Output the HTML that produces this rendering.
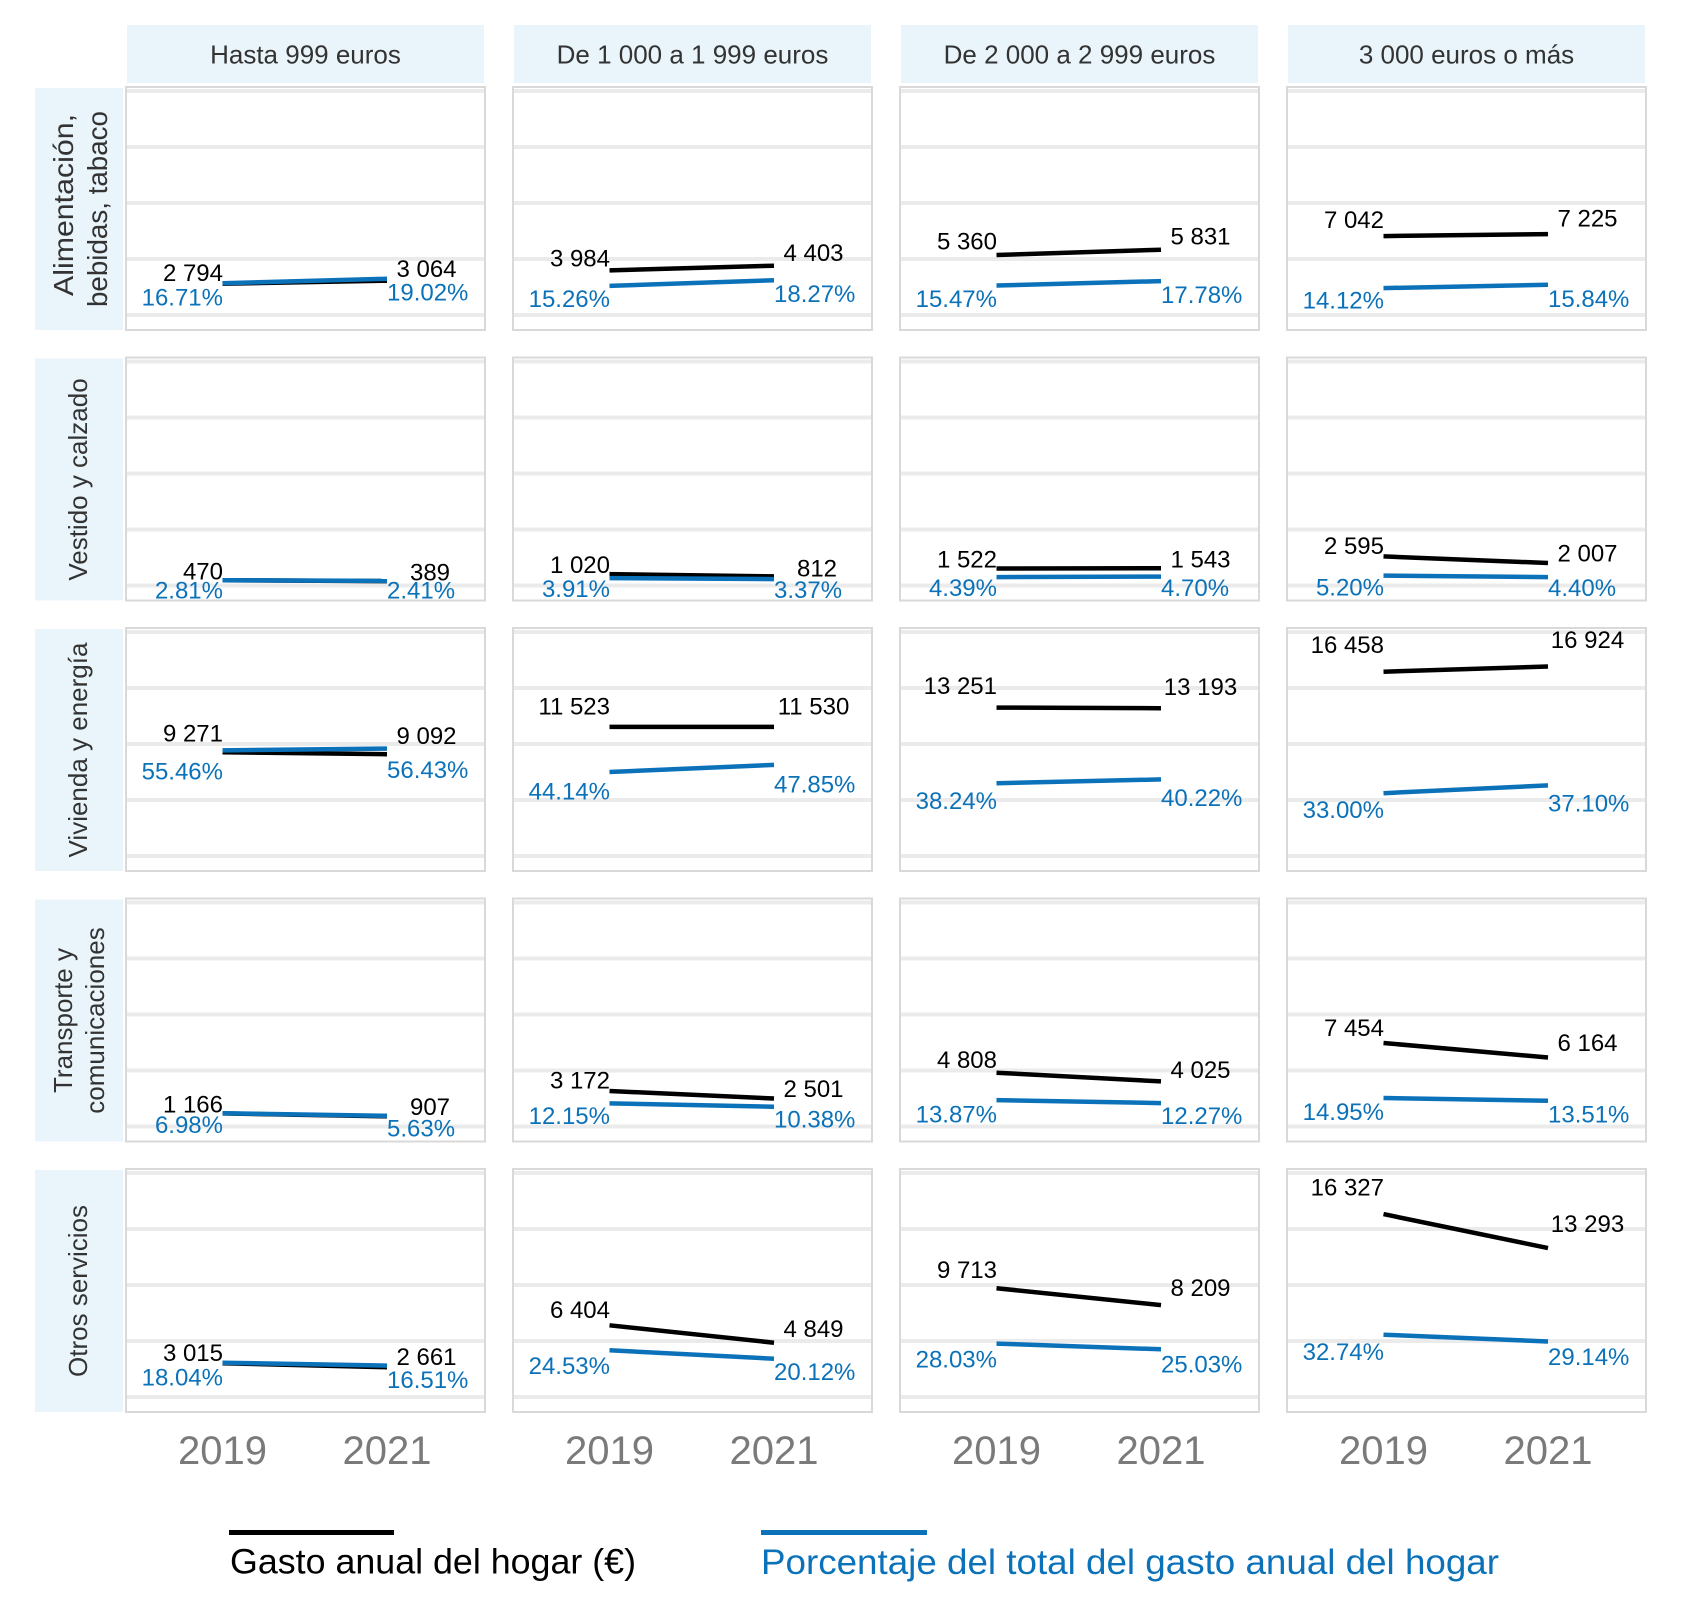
<!DOCTYPE html>
<html>
<head>
<meta charset="utf-8">
<style>
  html,body{margin:0;padding:0;background:#fff;}
  svg{display:block;}
  text{font-family:"Liberation Sans",Arial,sans-serif;}
  .hdr{font-size:26px;fill:#333;text-anchor:middle;}
  .row{font-size:26px;fill:#333;text-anchor:middle;}
  .bl{font-size:24px;fill:#000;}
  .pl{font-size:24px;fill:#0b72b9;}
  .yr{font-size:40px;fill:#7a7a7a;text-anchor:middle;}
  .grid{stroke:#ebebeb;stroke-width:4;}
  .bord{fill:none;stroke:#d9d9d9;stroke-width:2;}
  .lb{stroke:#000;stroke-width:4.5;fill:none;}
  .lp{stroke:#0b72b9;stroke-width:4.5;fill:none;}
</style>
</head>
<body>
<svg width="1689" height="1608" viewBox="0 0 1689 1608" xmlns="http://www.w3.org/2000/svg">
<rect x="0" y="0" width="1689" height="1608" fill="#fff"/>

<!-- Column headers -->
<rect x="127" y="25" width="357" height="58" fill="#eaf5fb"/>
<rect x="514" y="25" width="357" height="58" fill="#eaf5fb"/>
<rect x="901" y="25" width="357" height="58" fill="#eaf5fb"/>
<rect x="1288" y="25" width="357" height="58" fill="#eaf5fb"/>
<text class="hdr" x="305.5" y="63.3">Hasta 999 euros</text>
<text class="hdr" x="692.5" y="63.3">De 1 000 a 1 999 euros</text>
<text class="hdr" x="1079.5" y="63.3">De 2 000 a 2 999 euros</text>
<text class="hdr" x="1466.5" y="63.3">3 000 euros o más</text>

<!-- Row strips -->
<rect x="35" y="88" width="88" height="242" fill="#eaf5fb"/>
<rect x="35" y="358.5" width="88" height="242" fill="#eaf5fb"/>
<rect x="35" y="629" width="88" height="242" fill="#eaf5fb"/>
<rect x="35" y="899.5" width="88" height="242" fill="#eaf5fb"/>
<rect x="35" y="1170" width="88" height="242" fill="#eaf5fb"/>

<text class="row" style="font-size:28px" transform="translate(73,205) rotate(-90)" textLength="182" lengthAdjust="spacingAndGlyphs">Alimentación,</text>
<text class="row" style="font-size:28px" transform="translate(107,209) rotate(-90)" textLength="196" lengthAdjust="spacingAndGlyphs">bebidas, tabaco</text>
<text class="row" transform="translate(87,479.5) rotate(-90)">Vestido y calzado</text>
<text class="row" transform="translate(87,750) rotate(-90)">Vivienda y energía</text>
<text class="row" transform="translate(72,1020.5) rotate(-90)">Transporte y</text>
<text class="row" transform="translate(104,1020.5) rotate(-90)">comunicaciones</text>
<text class="row" transform="translate(87,1291) rotate(-90)">Otros servicios</text>

<!-- Panels: gridlines + borders -->
<g>
<g class="grid">
<line x1="125" x2="486" y1="315" y2="315"/><line x1="125" x2="486" y1="259" y2="259"/><line x1="125" x2="486" y1="203" y2="203"/><line x1="125" x2="486" y1="147" y2="147"/><line x1="125" x2="486" y1="91" y2="91"/>
<line x1="512" x2="873" y1="315" y2="315"/><line x1="512" x2="873" y1="259" y2="259"/><line x1="512" x2="873" y1="203" y2="203"/><line x1="512" x2="873" y1="147" y2="147"/><line x1="512" x2="873" y1="91" y2="91"/>
<line x1="899" x2="1260" y1="315" y2="315"/><line x1="899" x2="1260" y1="259" y2="259"/><line x1="899" x2="1260" y1="203" y2="203"/><line x1="899" x2="1260" y1="147" y2="147"/><line x1="899" x2="1260" y1="91" y2="91"/>
<line x1="1286" x2="1647" y1="315" y2="315"/><line x1="1286" x2="1647" y1="259" y2="259"/><line x1="1286" x2="1647" y1="203" y2="203"/><line x1="1286" x2="1647" y1="147" y2="147"/><line x1="1286" x2="1647" y1="91" y2="91"/>
</g>
<g class="grid">
<line x1="125" x2="486" y1="585.5" y2="585.5"/><line x1="125" x2="486" y1="529.5" y2="529.5"/><line x1="125" x2="486" y1="473.5" y2="473.5"/><line x1="125" x2="486" y1="417.5" y2="417.5"/><line x1="125" x2="486" y1="361.5" y2="361.5"/>
<line x1="512" x2="873" y1="585.5" y2="585.5"/><line x1="512" x2="873" y1="529.5" y2="529.5"/><line x1="512" x2="873" y1="473.5" y2="473.5"/><line x1="512" x2="873" y1="417.5" y2="417.5"/><line x1="512" x2="873" y1="361.5" y2="361.5"/>
<line x1="899" x2="1260" y1="585.5" y2="585.5"/><line x1="899" x2="1260" y1="529.5" y2="529.5"/><line x1="899" x2="1260" y1="473.5" y2="473.5"/><line x1="899" x2="1260" y1="417.5" y2="417.5"/><line x1="899" x2="1260" y1="361.5" y2="361.5"/>
<line x1="1286" x2="1647" y1="585.5" y2="585.5"/><line x1="1286" x2="1647" y1="529.5" y2="529.5"/><line x1="1286" x2="1647" y1="473.5" y2="473.5"/><line x1="1286" x2="1647" y1="417.5" y2="417.5"/><line x1="1286" x2="1647" y1="361.5" y2="361.5"/>
</g>
<g class="grid">
<line x1="125" x2="486" y1="856" y2="856"/><line x1="125" x2="486" y1="800" y2="800"/><line x1="125" x2="486" y1="744" y2="744"/><line x1="125" x2="486" y1="688" y2="688"/><line x1="125" x2="486" y1="632" y2="632"/>
<line x1="512" x2="873" y1="856" y2="856"/><line x1="512" x2="873" y1="800" y2="800"/><line x1="512" x2="873" y1="744" y2="744"/><line x1="512" x2="873" y1="688" y2="688"/><line x1="512" x2="873" y1="632" y2="632"/>
<line x1="899" x2="1260" y1="856" y2="856"/><line x1="899" x2="1260" y1="800" y2="800"/><line x1="899" x2="1260" y1="744" y2="744"/><line x1="899" x2="1260" y1="688" y2="688"/><line x1="899" x2="1260" y1="632" y2="632"/>
<line x1="1286" x2="1647" y1="856" y2="856"/><line x1="1286" x2="1647" y1="800" y2="800"/><line x1="1286" x2="1647" y1="744" y2="744"/><line x1="1286" x2="1647" y1="688" y2="688"/><line x1="1286" x2="1647" y1="632" y2="632"/>
</g>
<g class="grid">
<line x1="125" x2="486" y1="1126.5" y2="1126.5"/><line x1="125" x2="486" y1="1070.5" y2="1070.5"/><line x1="125" x2="486" y1="1014.5" y2="1014.5"/><line x1="125" x2="486" y1="958.5" y2="958.5"/><line x1="125" x2="486" y1="902.5" y2="902.5"/>
<line x1="512" x2="873" y1="1126.5" y2="1126.5"/><line x1="512" x2="873" y1="1070.5" y2="1070.5"/><line x1="512" x2="873" y1="1014.5" y2="1014.5"/><line x1="512" x2="873" y1="958.5" y2="958.5"/><line x1="512" x2="873" y1="902.5" y2="902.5"/>
<line x1="899" x2="1260" y1="1126.5" y2="1126.5"/><line x1="899" x2="1260" y1="1070.5" y2="1070.5"/><line x1="899" x2="1260" y1="1014.5" y2="1014.5"/><line x1="899" x2="1260" y1="958.5" y2="958.5"/><line x1="899" x2="1260" y1="902.5" y2="902.5"/>
<line x1="1286" x2="1647" y1="1126.5" y2="1126.5"/><line x1="1286" x2="1647" y1="1070.5" y2="1070.5"/><line x1="1286" x2="1647" y1="1014.5" y2="1014.5"/><line x1="1286" x2="1647" y1="958.5" y2="958.5"/><line x1="1286" x2="1647" y1="902.5" y2="902.5"/>
</g>
<g class="grid">
<line x1="125" x2="486" y1="1397" y2="1397"/><line x1="125" x2="486" y1="1341" y2="1341"/><line x1="125" x2="486" y1="1285" y2="1285"/><line x1="125" x2="486" y1="1229" y2="1229"/><line x1="125" x2="486" y1="1173" y2="1173"/>
<line x1="512" x2="873" y1="1397" y2="1397"/><line x1="512" x2="873" y1="1341" y2="1341"/><line x1="512" x2="873" y1="1285" y2="1285"/><line x1="512" x2="873" y1="1229" y2="1229"/><line x1="512" x2="873" y1="1173" y2="1173"/>
<line x1="899" x2="1260" y1="1397" y2="1397"/><line x1="899" x2="1260" y1="1341" y2="1341"/><line x1="899" x2="1260" y1="1285" y2="1285"/><line x1="899" x2="1260" y1="1229" y2="1229"/><line x1="899" x2="1260" y1="1173" y2="1173"/>
<line x1="1286" x2="1647" y1="1397" y2="1397"/><line x1="1286" x2="1647" y1="1341" y2="1341"/><line x1="1286" x2="1647" y1="1285" y2="1285"/><line x1="1286" x2="1647" y1="1229" y2="1229"/><line x1="1286" x2="1647" y1="1173" y2="1173"/>
</g>

<g class="bord">
<rect x="126" y="87" width="359" height="243"/><rect x="513" y="87" width="359" height="243"/><rect x="900" y="87" width="359" height="243"/><rect x="1287" y="87" width="359" height="243"/>
<rect x="126" y="357.5" width="359" height="243"/><rect x="513" y="357.5" width="359" height="243"/><rect x="900" y="357.5" width="359" height="243"/><rect x="1287" y="357.5" width="359" height="243"/>
<rect x="126" y="628" width="359" height="243"/><rect x="513" y="628" width="359" height="243"/><rect x="900" y="628" width="359" height="243"/><rect x="1287" y="628" width="359" height="243"/>
<rect x="126" y="898.5" width="359" height="243"/><rect x="513" y="898.5" width="359" height="243"/><rect x="900" y="898.5" width="359" height="243"/><rect x="1287" y="898.5" width="359" height="243"/>
<rect x="126" y="1169" width="359" height="243"/><rect x="513" y="1169" width="359" height="243"/><rect x="900" y="1169" width="359" height="243"/><rect x="1287" y="1169" width="359" height="243"/>
</g>
</g>

<!-- Data lines -->
<g class="lb">
<line x1="222.5" y1="283.7" x2="387" y2="280.7"/>
<line x1="609.5" y1="270.4" x2="774" y2="265.7"/>
<line x1="996.5" y1="255.0" x2="1161" y2="249.7"/>
<line x1="1383.5" y1="236.1" x2="1548" y2="234.1"/>

<line x1="222.5" y1="580.2" x2="387" y2="581.1"/>
<line x1="609.5" y1="574.1" x2="774" y2="576.4"/>
<line x1="996.5" y1="568.5" x2="1161" y2="568.2"/>
<line x1="1383.5" y1="556.4" x2="1548" y2="563.0"/>

<line x1="222.5" y1="752.2" x2="387" y2="754.2"/>
<line x1="609.5" y1="726.9" x2="774" y2="726.9"/>
<line x1="996.5" y1="707.6" x2="1161" y2="708.2"/>
<line x1="1383.5" y1="671.7" x2="1548" y2="666.5"/>

<line x1="222.5" y1="1113.4" x2="387" y2="1116.3"/>
<line x1="609.5" y1="1091.0" x2="774" y2="1098.5"/>
<line x1="996.5" y1="1072.7" x2="1161" y2="1081.4"/>
<line x1="1383.5" y1="1043.0" x2="1548" y2="1057.5"/>

<line x1="222.5" y1="1363.2" x2="387" y2="1367.2"/>
<line x1="609.5" y1="1325.3" x2="774" y2="1342.7"/>
<line x1="996.5" y1="1288.2" x2="1161" y2="1305.1"/>
<line x1="1383.5" y1="1214.1" x2="1548" y2="1248.1"/>
</g>
<g class="lp">
<line x1="222.5" y1="283.2" x2="387" y2="278.8"/>
<line x1="609.5" y1="285.9" x2="774" y2="280.2"/>
<line x1="996.5" y1="285.5" x2="1161" y2="281.1"/>
<line x1="1383.5" y1="288.1" x2="1548" y2="284.8"/>

<line x1="222.5" y1="580.2" x2="387" y2="580.9"/>
<line x1="609.5" y1="578.1" x2="774" y2="579.1"/>
<line x1="996.5" y1="577.1" x2="1161" y2="576.6"/>
<line x1="1383.5" y1="575.6" x2="1548" y2="577.1"/>

<line x1="222.5" y1="750.4" x2="387" y2="748.6"/>
<line x1="609.5" y1="772.0" x2="774" y2="764.9"/>
<line x1="996.5" y1="783.2" x2="1161" y2="779.4"/>
<line x1="1383.5" y1="793.2" x2="1548" y2="785.4"/>

<line x1="222.5" y1="1113.2" x2="387" y2="1115.8"/>
<line x1="609.5" y1="1103.4" x2="774" y2="1106.7"/>
<line x1="996.5" y1="1100.1" x2="1161" y2="1103.1"/>
<line x1="1383.5" y1="1098.0" x2="1548" y2="1100.8"/>

<line x1="222.5" y1="1362.7" x2="387" y2="1365.6"/>
<line x1="609.5" y1="1350.3" x2="774" y2="1358.7"/>
<line x1="996.5" y1="1343.6" x2="1161" y2="1349.3"/>
<line x1="1383.5" y1="1334.7" x2="1548" y2="1341.5"/>
</g>

<!-- Black labels 2019 (right aligned) -->
<g class="bl" text-anchor="end">
<text x="223" y="281.1">2 794</text>
<text x="610" y="266.4">3 984</text>
<text x="997" y="249.6">5 360</text>
<text x="1384" y="228.2">7 042</text>

<text x="223" y="579.3">470</text>
<text x="610" y="572.9">1 020</text>
<text x="997" y="567.5">1 522</text>
<text x="1384" y="553.9">2 595</text>

<text x="223" y="741.4">9 271</text>
<text x="610" y="714.4">11 523</text>
<text x="997" y="694">13 251</text>
<text x="1384" y="653.2">16 458</text>

<text x="223" y="1112.3">1 166</text>
<text x="610" y="1088.4">3 172</text>
<text x="997" y="1068">4 808</text>
<text x="1384" y="1035.8">7 454</text>

<text x="223" y="1360.8">3 015</text>
<text x="610" y="1318">6 404</text>
<text x="997" y="1278.2">9 713</text>
<text x="1384" y="1195.5">16 327</text>
</g>

<!-- Black labels 2021 (centered) -->
<g class="bl" text-anchor="middle">
<text x="426.5" y="277.1">3 064</text>
<text x="813.5" y="261.1">4 403</text>
<text x="1200.5" y="244.3">5 831</text>
<text x="1587.5" y="226.4">7 225</text>

<text x="430" y="580.7">389</text>
<text x="817" y="576.4">812</text>
<text x="1200.5" y="567.5">1 543</text>
<text x="1587.5" y="561.4">2 007</text>

<text x="426.5" y="744">9 092</text>
<text x="813.5" y="714.4">11 530</text>
<text x="1200.5" y="695">13 193</text>
<text x="1587.5" y="648.1">16 924</text>

<text x="430" y="1114.9">907</text>
<text x="813.5" y="1097">2 501</text>
<text x="1200.5" y="1078.2">4 025</text>
<text x="1587.5" y="1051.1">6 164</text>

<text x="426.5" y="1364.9">2 661</text>
<text x="813.5" y="1336.8">4 849</text>
<text x="1200.5" y="1296">8 209</text>
<text x="1587.5" y="1232.2">13 293</text>
</g>

<!-- Blue labels 2019 (right aligned) -->
<g class="pl" text-anchor="end">
<text x="223" y="305.7">16.71%</text>
<text x="610" y="306.8">15.26%</text>
<text x="997" y="307.1">15.47%</text>
<text x="1384" y="308.6">14.12%</text>

<text x="223" y="598.6">2.81%</text>
<text x="610" y="596.8">3.91%</text>
<text x="997" y="596.1">4.39%</text>
<text x="1384" y="595.4">5.20%</text>

<text x="223" y="779.7">55.46%</text>
<text x="610" y="799.6">44.14%</text>
<text x="997" y="808.8">38.24%</text>
<text x="1384" y="818">33.00%</text>

<text x="223" y="1132.8">6.98%</text>
<text x="610" y="1124">12.15%</text>
<text x="997" y="1122.6">13.87%</text>
<text x="1384" y="1120">14.95%</text>

<text x="223" y="1385.3">18.04%</text>
<text x="610" y="1374.1">24.53%</text>
<text x="997" y="1367.4">28.03%</text>
<text x="1384" y="1359.8">32.74%</text>
</g>

<!-- Blue labels 2021 (left aligned) -->
<g class="pl" text-anchor="start">
<text x="387" y="300.7">19.02%</text>
<text x="774" y="302.1">18.27%</text>
<text x="1161" y="303.2">17.78%</text>
<text x="1548" y="306.8">15.84%</text>

<text x="387" y="598.6">2.41%</text>
<text x="774" y="597.9">3.37%</text>
<text x="1161" y="596.1">4.70%</text>
<text x="1548" y="596.1">4.40%</text>

<text x="387" y="778.2">56.43%</text>
<text x="774" y="792.4">47.85%</text>
<text x="1161" y="806.2">40.22%</text>
<text x="1548" y="811.3">37.10%</text>

<text x="387" y="1136.3">5.63%</text>
<text x="774" y="1127.7">10.38%</text>
<text x="1161" y="1124">12.27%</text>
<text x="1548" y="1122.6">13.51%</text>

<text x="387" y="1387.9">16.51%</text>
<text x="774" y="1380.2">20.12%</text>
<text x="1161" y="1372.6">25.03%</text>
<text x="1548" y="1364.9">29.14%</text>
</g>

<!-- X axis years -->
<g class="yr">
<text x="222.5" y="1464">2019</text><text x="387" y="1464">2021</text>
<text x="609.5" y="1464">2019</text><text x="774" y="1464">2021</text>
<text x="996.5" y="1464">2019</text><text x="1161" y="1464">2021</text>
<text x="1383.5" y="1464">2019</text><text x="1548" y="1464">2021</text>
</g>

<!-- Legend -->
<line x1="229" y1="1532.5" x2="394" y2="1532.5" stroke="#000" stroke-width="5"/>
<line x1="761" y1="1532.5" x2="927" y2="1532.5" stroke="#0b72b9" stroke-width="5"/>
<text x="230" y="1573.5" font-size="35" fill="#000" textLength="406" lengthAdjust="spacingAndGlyphs">Gasto anual del hogar (€)</text>
<text x="761" y="1574" font-size="35" fill="#0b72b9" textLength="738" lengthAdjust="spacingAndGlyphs">Porcentaje del total del gasto anual del hogar</text>
</svg>
</body>
</html>
